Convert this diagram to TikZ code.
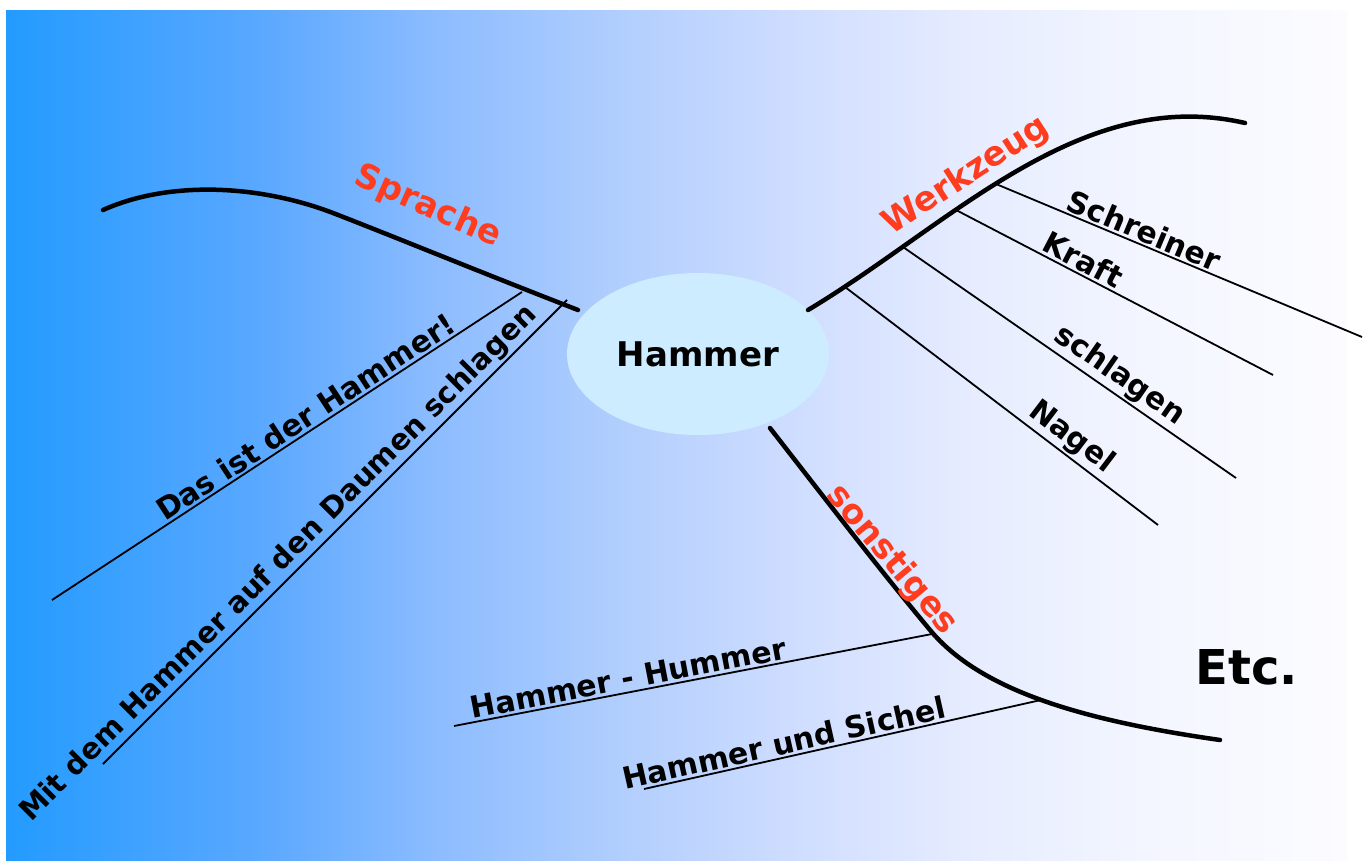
\documentclass[tikz,border=0pt]{standalone}
\usepackage{fontspec}
\setmainfont{DejaVu Sans}
\usetikzlibrary{shapes.geometric}
\definecolor{centerfill}{RGB}{205,236,255}
\definecolor{labelred}{RGB}{255,60,30}
\pgfdeclarehorizontalshading{bgshade}{100bp}{%
  rgb(0bp)=(.137,.608,1);
  rgb(25bp)=(.137,.608,1);
  rgb(34.5bp)=(.353,.659,1);
  rgb(41bp)=(.549,.737,1);
  rgb(47.5bp)=(.686,.804,.992);
  rgb(54bp)=(.804,.863,1);
  rgb(60.75bp)=(.902,.925,1);
  rgb(67.5bp)=(.953,.965,1);
  rgb(75bp)=(.988,.988,1);
  rgb(100bp)=(.988,.988,1)}
\tikzset{
  branch/.style={line width=4.5pt, line cap=round},
  twig/.style={line width=1.8pt},
  twiglabel/.style={sloped, above, inner sep=2pt, font=\bfseries\fontsize{30}{36}\selectfont},
  topic/.style={text=labelred, inner sep=0pt, font=\bfseries\fontsize{34}{40}\selectfont},
}
\begin{document}
\begin{tikzpicture}[x=1pt,y=-1pt]
\useasboundingbox (0,0) rectangle (1367,861);
\fill[white] (0,0) rectangle (1367,861);
\shade[shading=bgshade] (6,11) rectangle (1347,861);

% centre
\node[ellipse, fill=centerfill, minimum width=262pt, minimum height=162pt, inner sep=0pt,
      font=\bfseries\fontsize{34}{40}\selectfont] (hammer) at (698,354) {Hammer};

% Sprache branch
\coordinate (sp0) at (103,210);
\coordinate (sp1) at (333,213);
\coordinate (sp2) at (578,310);
\draw[branch] (sp0) .. controls (170,180) and (260,185) .. (sp1)
              .. controls (400,239) and (480,272) .. (sp2);
\node[topic, rotate=-24] (sprache) at (428,207) {Sprache};
\coordinate (da0) at (52,600);
\coordinate (da1) at (522,292);
\draw[twig] (da0) -- (da1) node[twiglabel, pos=0.556] (dalabel) {Das ist der Hammer!};
\coordinate (mi0) at (103,764);
\coordinate (mi1) at (567,300);
\draw[twig] (mi0) -- (mi1) node[twiglabel, pos=0.405, font=\bfseries\fontsize{29}{35}\selectfont] (milabel) {Mit dem Hammer auf den Daumen schlagen};

% Werkzeug branch
\coordinate (wz0) at (808,310);
\coordinate (wz1) at (1245,123);
\draw[branch] (wz0) .. controls (950,225) and (1080,85) .. (wz1);
\node[topic, rotate=33] (werkzeug) at (966,176) {Werkzeug};
\coordinate (sc0) at (996,184);
\coordinate (sc1) at (1362,337);
\draw[twig] (sc0) -- (sc1) node[twiglabel, pos=0.39] (sclabel) {Schreiner};
\coordinate (kr0) at (956,210);
\coordinate (kr1) at (1273,375);
\draw[twig] (kr0) -- (kr1) node[twiglabel, pos=0.38] (krlabel) {Kraft};
\coordinate (sl0) at (903,247);
\coordinate (sl1) at (1236,478);
\draw[twig] (sl0) -- (sl1) node[twiglabel, pos=0.62] (sllabel) {schlagen};
\coordinate (na0) at (845,287);
\coordinate (na1) at (1158,525);
\draw[twig] (na0) -- (na1) node[twiglabel, pos=0.69] (nalabel) {Nagel};

% sonstiges branch
\coordinate (so0) at (770,428);
\coordinate (so1) at (930,630);
\coordinate (so2) at (1220,740);
\draw[branch] (so0) .. controls (830,505) and (880,570) .. (so1)
              .. controls (980,690) and (1080,720) .. (so2);
\node[topic, rotate=-50] (sonstiges) at (892,560) {sonstiges};
\coordinate (hh0) at (454,726);
\coordinate (hh1) at (932,634);
\draw[twig] (hh0) -- (hh1) node[twiglabel, pos=0.37] (hhlabel) {Hammer - Hummer};
\coordinate (hs0) at (644,789);
\coordinate (hs1) at (1041,700);
\draw[twig] (hs0) -- (hs1) node[twiglabel, pos=0.36] (hslabel) {Hammer und Sichel};

\node[inner sep=0pt, font=\bfseries\fontsize{48}{56}\selectfont] (etc) at (1247,667) {Etc.};
\end{tikzpicture}
\end{document}
